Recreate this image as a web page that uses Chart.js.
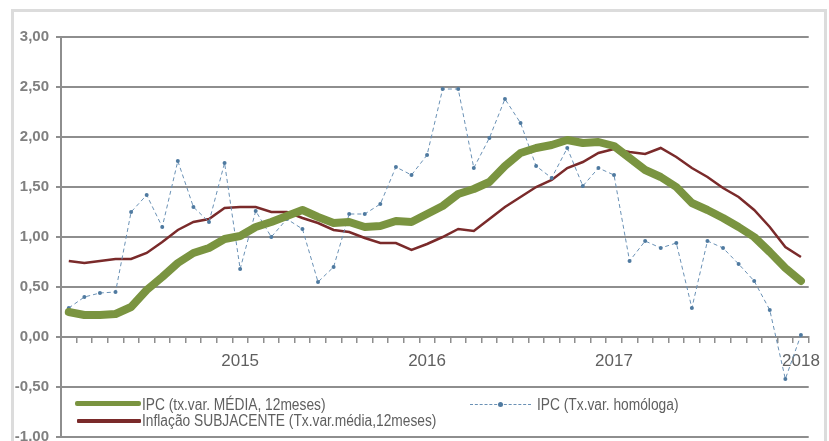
<!DOCTYPE html>
<html>
<head>
<meta charset="utf-8">
<script src="https://cdn.jsdelivr.net/npm/chart.js@4.4.0/dist/chart.umd.min.js"></script>
<style>
  html, body { margin: 0; padding: 0; background: #fff; }
  #wrap { position: relative; width: 829px; height: 441px; overflow: hidden; }
  #frame { position: absolute; left: 11px; top: 9px; width: 816px; height: 445px; border: 3px solid #dcdcdc; box-sizing: border-box; }
  canvas { position: absolute; left: 0; top: 0; }
  .leg { position: absolute; font-family: "Liberation Sans", Arial, sans-serif; font-size: 16px; color: #5f5f5f; white-space: nowrap; line-height: 16px; transform: scaleX(0.86); transform-origin: 0 0; }
  .sw { position: absolute; }
</style>
</head>
<body>
<div id="wrap">
  <div id="frame"></div>
  <canvas id="chart" width="829" height="460"></canvas>
  <div class="sw" style="left:75px;top:401px;width:66px;height:5px;background:#7a9440;border-radius:2px;"></div>
  <div class="leg" style="left:142px;top:397px;">IPC (tx.var. MÉDIA, 12meses)</div>
  <div class="sw" style="left:470px;top:404px;width:61px;height:0;border-top:1px dashed #6a91b5;"></div>
  <div class="sw" style="left:498px;top:402px;width:5px;height:5px;border-radius:50%;background:#4f7aa0;"></div>
  <div class="leg" style="left:537px;top:397px;">IPC (Tx.var. homóloga)</div>
  <div class="sw" style="left:77px;top:419px;width:64px;height:4px;background:#7a2a2a;border-radius:1px;"></div>
  <div class="leg" style="left:142px;top:413px;">Inflação SUBJACENTE (Tx.var.média,12meses)</div>
</div>
<script>
// months Jan 2014 .. Dec 2017, year shown at December
const months = [
  '', '', '', '', '', '', '', '', '', '', '', '2015',
  '', '', '', '', '', '', '', '', '', '', '', '2016',
  '', '', '', '', '', '', '', '', '', '', '', '2017',
  '', '', '', '', '', '', '', '', '', '', '', '2018'
];

const ipcMedia = [
  0.25, 0.22, 0.22, 0.23, 0.30, 0.47, 0.60, 0.74, 0.84, 0.89, 0.98, 1.01,
  1.10, 1.15, 1.21, 1.27, 1.20, 1.14, 1.15, 1.10, 1.11, 1.16, 1.15, 1.23,
  1.31, 1.43, 1.48, 1.55, 1.71, 1.84, 1.89, 1.92, 1.97, 1.94, 1.95, 1.91,
  1.79, 1.67, 1.60, 1.50, 1.34, 1.27, 1.19, 1.10, 1.00, 0.85, 0.69, 0.56
];

const ipcHomologa = [
  0.29, 0.40, 0.44, 0.45, 1.25, 1.42, 1.10, 1.76, 1.30, 1.15, 1.74, 0.68,
  1.26, 1.00, 1.18, 1.08, 0.55, 0.70, 1.23, 1.23, 1.33, 1.70, 1.62, 1.82,
  2.48, 2.48, 1.69, 1.99, 2.38, 2.14, 1.71, 1.59, 1.89, 1.51, 1.69, 1.62,
  0.76, 0.96, 0.89, 0.94, 0.29, 0.96, 0.89, 0.73, 0.56, 0.27, -0.42, 0.02
];

const subjacente = [
  0.76, 0.74, 0.76, 0.78, 0.78, 0.84, 0.95, 1.07, 1.15, 1.18, 1.29, 1.30,
  1.30, 1.25, 1.25, 1.19, 1.14, 1.07, 1.05, 0.99, 0.94, 0.94, 0.87, 0.93,
  1.00, 1.08, 1.06, 1.18, 1.30, 1.40, 1.50, 1.57, 1.69, 1.75, 1.84, 1.88,
  1.85, 1.83, 1.89, 1.80, 1.69, 1.60, 1.49, 1.40, 1.27, 1.10, 0.90, 0.80
];

const fontFamily = '"Liberation Sans", Arial, sans-serif';

const ctx = document.getElementById('chart').getContext('2d');
new Chart(ctx, {
  type: 'line',
  data: {
    labels: months,
    datasets: [
      {
        label: 'IPC (tx.var. MÉDIA, 12meses)',
        data: ipcMedia,
        borderColor: '#7a9440',
        borderWidth: 8,
        pointRadius: 0,
        tension: 0,
        borderCapStyle: 'round',
        borderJoinStyle: 'round'
      },
      {
        label: 'IPC (Tx.var. homóloga)',
        data: ipcHomologa,
        borderColor: '#6a91b5',
        borderWidth: 1,
        borderDash: [4, 3],
        pointRadius: 2,
        pointBackgroundColor: '#4f7aa0',
        pointBorderWidth: 0,
        tension: 0
      },
      {
        label: 'Inflação SUBJACENTE (Tx.var.média,12meses)',
        data: subjacente,
        borderColor: '#7a2a2a',
        borderWidth: 2.5,
        pointRadius: 0,
        tension: 0
      }
    ]
  },
  options: {
    responsive: false,
    animation: false,
    layout: { padding: { left: 0, right: 16, top: 37, bottom: 23 } },
    plugins: { legend: { display: false }, tooltip: { enabled: false } },
    scales: {
      x: {
        position: { y: 0 },
        offset: true,
        grid: { offset: true, drawOnChartArea: false, drawTicks: true, tickLength: 5, color: '#8e8e8e', lineWidth: 1.5 },
        border: { display: true, color: '#8e8e8e', width: 2 },
        ticks: {
          autoSkip: false, maxRotation: 0, minRotation: 0, padding: 9,
          color: '#5f5f5f', font: { family: fontFamily, size: 17 }
        }
      },
      y: {
        min: -1, max: 3,
        afterFit: function (scale) { scale.width = 61; },
        grid: { color: '#8e8e8e', lineWidth: 2, tickLength: 5 },
        border: { display: true, color: '#8e8e8e', width: 2 },
        ticks: {
          stepSize: 0.5, padding: 7,
          color: '#808080', font: { family: fontFamily, size: 15, weight: 'bold' },
          callback: function (v) { return v.toFixed(2).replace('.', ','); }
        }
      }
    }
  }
});
</script>
</body>
</html>
